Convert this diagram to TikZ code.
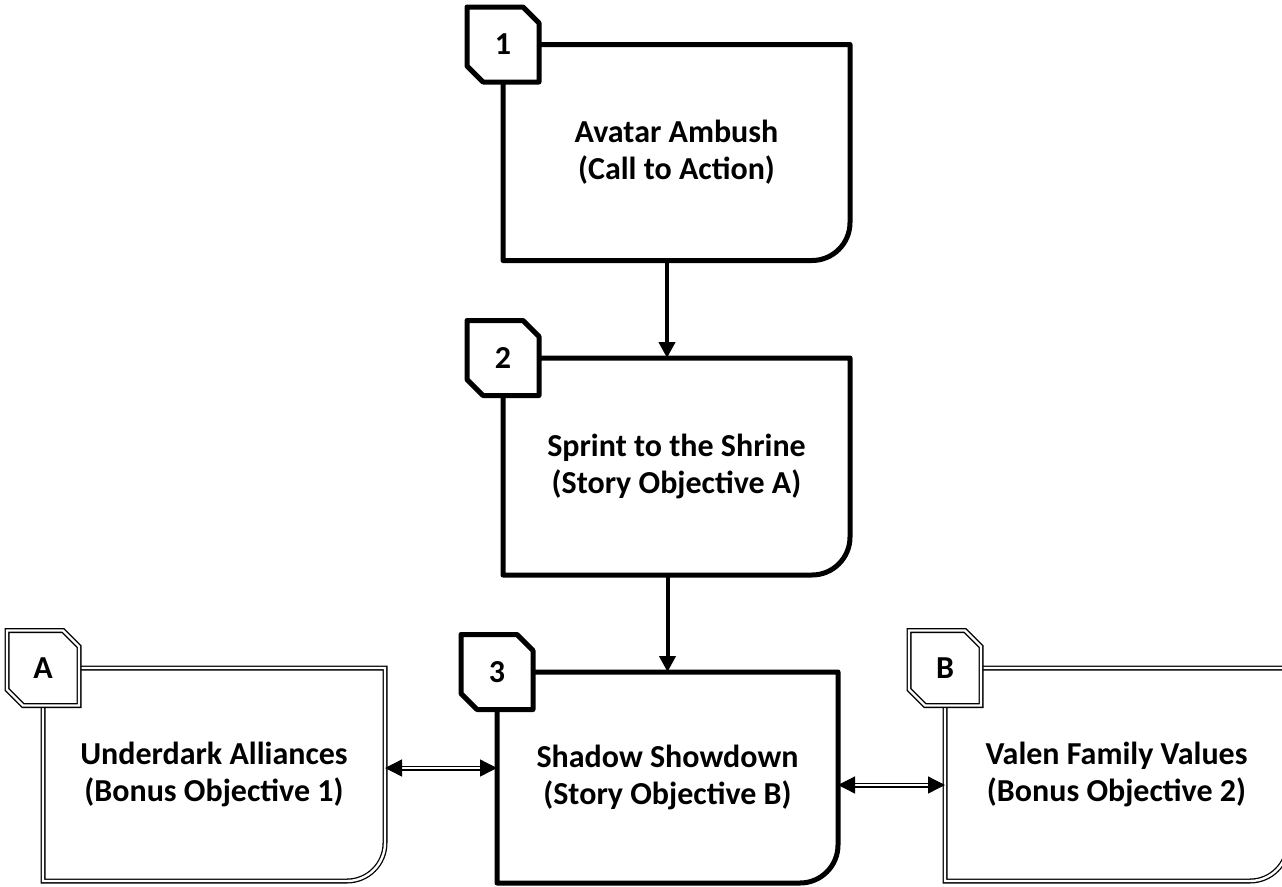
\documentclass[tikz,border=0pt]{standalone}
\usepackage{fontspec}
\setmainfont{Carlito}
\usetikzlibrary{shapes.misc, arrows.meta}

\begin{document}
\begin{tikzpicture}[x=1pt, y=-1pt,
    font=\bfseries\fontsize{32}{37}\selectfont,
    questbox/.style={inner sep=0pt, outer sep=0pt, minimum width=347pt, minimum height=216pt, align=center,
        execute at begin node=\rule{0pt}{34pt}},
    storyline/.style={line width=5pt, line join=round},
    bonusline/.style={line width=1.3pt, double, double distance=2.4pt},
    questtab/.style={chamfered rectangle, chamfered rectangle corners={north east, south west},
        chamfered rectangle xsep=8pt, chamfered rectangle ysep=8pt,
        minimum width=72pt, minimum height=75pt, inner sep=0pt, fill=white},
    flowarrow/.style={line width=4pt, -{Triangle[length=16pt, width=16pt]}},
    linkarrow/.style={bonusline, {Triangle[length=17pt, width=17pt]}-{Triangle[length=17pt, width=17pt]}}]

    \useasboundingbox (0,0) rectangle (1282,886);

    % Story Objectives
    \node[questbox] (avatar) at (676.5,152.5) {Avatar Ambush\\(Call to Action)};
    \node[questbox, minimum height=217pt] (sprint) at (676.5,466.5) {Sprint to the Shrine\\(Story Objective A)};
    \node[questbox, minimum width=341pt, minimum height=211pt] (shadow) at (667.5,777.5) {Shadow Showdown\\(Story Objective B)};

    % Bonus Objectives
    \node[questbox, minimum width=342pt, minimum height=213pt] (underdark) at (214,774.5) {Underdark Alliances\\(Bonus Objective 1)};
    \node[questbox, minimum width=343pt, minimum height=213pt] (valen) at (1116.5,774.5) {Valen Family Values\\(Bonus Objective 2)};

    % Outlines
    \foreach \b in {avatar, sprint, shadow}
        \draw[storyline] (\b.north west) -- (\b.north east) [rounded corners=38pt] -- (\b.south east)
            [sharp corners] -- (\b.south west) -- cycle;
    \foreach \b in {underdark, valen}
        \draw[bonusline] (\b.north west) -- (\b.north east) [rounded corners=38pt] -- (\b.south east)
            [sharp corners] -- (\b.south west) -- cycle;

    % Tabs
    \node[questtab, storyline, draw] (tab1) at (avatar.north west) {1};
    \node[questtab, storyline, draw] (tab2) at (sprint.north west) {2};
    \node[questtab, storyline, draw] (tab3) at (shadow.north west) {3};
    \node[questtab, bonusline, draw] (tabA) at (underdark.north west) {A};
    \node[questtab, bonusline, draw] (tabB) at (valen.north west) {B};

    % Arrows
    \draw[flowarrow] ([xshift=-9.5pt]avatar.south) -- ([xshift=-9.5pt]sprint.north);
    \draw[flowarrow] ([xshift=-9pt]sprint.south) -- (shadow.north);
    \draw[linkarrow] ([yshift=6.5pt]underdark.east) -- ([yshift=9.5pt]shadow.west);
    \draw[linkarrow] ([yshift=-7.5pt]shadow.east) -- ([yshift=-10.5pt]valen.west);
\end{tikzpicture}
\end{document}
